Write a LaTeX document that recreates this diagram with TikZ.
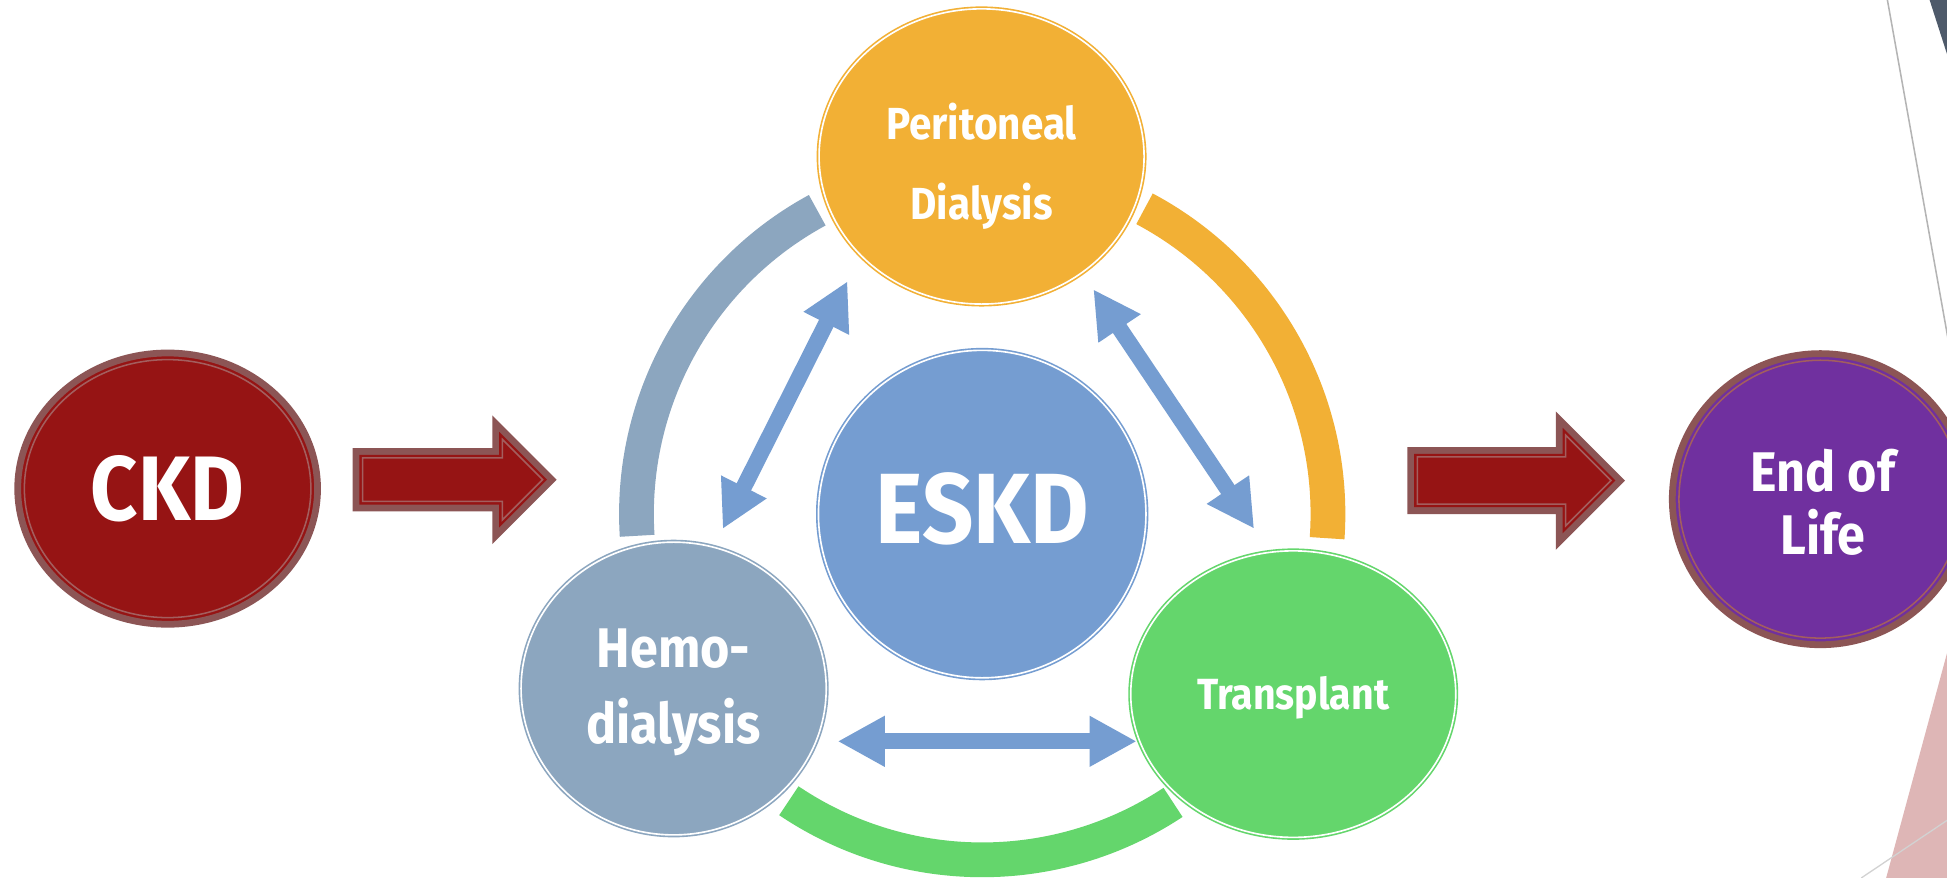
\documentclass[tikz,border=0pt]{standalone}
\usepackage{fontspec}
\setmainfont{Fira Sans}[FakeStretch=0.9]
\usetikzlibrary{shapes.geometric,arrows.meta,calc}
\definecolor{ckdred}{HTML}{961414}
\definecolor{ringbrown}{HTML}{8C5555}
\definecolor{thinbrown}{HTML}{A35E5E}
\definecolor{pdorange}{HTML}{F2B035}
\definecolor{eskdblue}{HTML}{759DD1}
\definecolor{hemogray}{HTML}{8CA6BF}
\definecolor{txgreen}{HTML}{64D66C}
\definecolor{eolpurple}{HTML}{70309F}
\definecolor{decopink}{HTML}{DEB6B6}
\definecolor{decoslate}{HTML}{4E5A6A}
\definecolor{decogray}{HTML}{B4B4B4}
% #1 style, #2 tail x, #3 head base x, #4 tip x, #5 centre y, #6 shaft half height, #7 inset
\newcommand{\ArrowPoly}[7]{\path[#1] ({#2+#7},{#5-#6+#7}) -- ({#3+#7},{#5-#6+#7}) -- ({#3+#7},{#5-#4+#3+2.4142*#7}) -- ({#4-1.4142*#7},#5) -- ({#3+#7},{#5+#4-#3-2.4142*#7}) -- ({#3+#7},{#5+#6-#7}) -- ({#2+#7},{#5+#6-#7}) -- cycle;}
\begin{document}
\begin{tikzpicture}[x=0.02cm,y=-0.02cm,
  cyc/.style={ellipse, inner sep=0pt, line width=0.75pt, double=white, double distance=0.75pt},
  stage/.style={ellipse, inner sep=0pt, line width=3.1pt, draw=ringbrown},
  lbl/.style={text=white, inner sep=0pt, align=center},
  ring/.style={line width=0.56cm},
  link/.style={draw=eskdblue, line width=7.4pt, {Triangle[length=21.6pt,width=21.8pt]}-{Triangle[length=21.6pt,width=21.8pt]}}]
\useasboundingbox (0,0) rectangle (1568,707);
\begin{scope}
\clip (0,0) rectangle (1568,707);
\fill[white] (0,0) rectangle (1568,707);
% cycle ring
\coordinate (cc) at (791,414);
\draw[ring, hemogray] (cc) ++(118.5:5.57cm) arc[start angle=118.5, end angle=183.6, radius=5.57cm];
\draw[ring, pdorange] (cc) ++(-4:5.57cm) arc[start angle=-4, end angle=62, radius=5.57cm];
\draw[ring, txgreen] (cc) ++(-124:5.57cm) arc[start angle=-124, end angle=-56.5, radius=5.57cm];
% cycle nodes
\node[cyc, fill=pdorange, draw=pdorange, minimum width=5.236cm, minimum height=4.756cm] (pd) at (790.5,126) {};
\node[cyc, fill=eskdblue, draw=eskdblue, minimum width=5.276cm, minimum height=5.276cm] (eskd) at (cc) {};
\node[cyc, fill=hemogray, draw=hemogray, minimum width=4.916cm, minimum height=4.716cm] (hd) at (542.5,554.5) {};
\node[cyc, fill=txgreen, draw=txgreen, minimum width=5.236cm, minimum height=4.616cm] (tx) at (1041.5,559) {};
% stages
\node[stage, fill=ckdred, minimum width=4.83cm, minimum height=4.37cm] (ckd) at (135,393.5) {};
\draw[thinbrown, line width=0.7pt] (ckd.center) ellipse [x radius=2.308cm, y radius=2.078cm];
\node[stage, fill=eolpurple, minimum width=4.77cm, minimum height=4.69cm] (eol) at (1466,402) {};
\draw[thinbrown, line width=0.7pt] (eol.center) ellipse [x radius=2.278cm, y radius=2.238cm];
% block arrows
\ArrowPoly{fill=ringbrown}{284}{396.5}{448.3}{386.3}{25.5}{0}
\ArrowPoly{fill=ckdred}{284}{396.5}{448.3}{386.3}{25.5}{5.5}
\ArrowPoly{draw=thinbrown, line width=0.7pt}{284}{396.5}{448.3}{386.3}{25.5}{8}
\ArrowPoly{fill=ringbrown}{1133.4}{1252.9}{1308.7}{387}{27}{0}
\ArrowPoly{fill=ckdred}{1133.4}{1252.9}{1308.7}{387}{27}{5.5}
\ArrowPoly{draw=thinbrown, line width=0.7pt}{1133.4}{1252.9}{1308.7}{387}{27}{8}
% two-way links
\coordinate (hpA) at (582,426);
\coordinate (hpB) at (682.5,226.5);
\coordinate (ptA) at (880.5,233);
\coordinate (ptB) at (1010,425.8);
\coordinate (htA) at (674.6,597);
\coordinate (htB) at (915.4,597);
\draw[link] (hpA) -- (hpB);
\draw[link] (ptA) -- (ptB);
\draw[link] (htA) -- (htB);
% labels
\node[lbl, font=\bfseries\fontsize{42}{42}\selectfont] (ckdtxt) at (ckd.center) {CKD};
\node[lbl, font=\bfseries\fontsize{45.8}{46}\selectfont] (eskdtxt) at (791,410) {ESKD};
\node[lbl, font=\bfseries\fontsize{20.6}{37}\selectfont] (pdtxt) at (790.5,134) {Peritoneal\\Dialysis};
\node[lbl, font=\bfseries\fontsize{25.6}{35}\selectfont] (hdtxt) at (542.5,557.5) {Hemo-\\dialysis};
\node[lbl, font=\bfseries\fontsize{20}{24}\selectfont] (txtxt) at (1041.5,562) {Transplant};
\node[lbl, font=\bfseries\fontsize{25.6}{29}\selectfont] (eoltxt) at (1468,404.6) {End of\\Life};
% slide decoration at the right edge
\draw[decogray, line width=0.7pt] (1520,0) -- (1576,313);
\fill[decoslate] (1554,0) -- (1572,0) -- (1572,56) -- cycle;
\fill[decopink] (1519,707) -- (1568,526) -- (1572,526) -- (1572,712) -- cycle;
\draw[decogray!60, line width=0.6pt] (1499,707) -- (1572,658);
\end{scope}
\end{tikzpicture}
\end{document}
